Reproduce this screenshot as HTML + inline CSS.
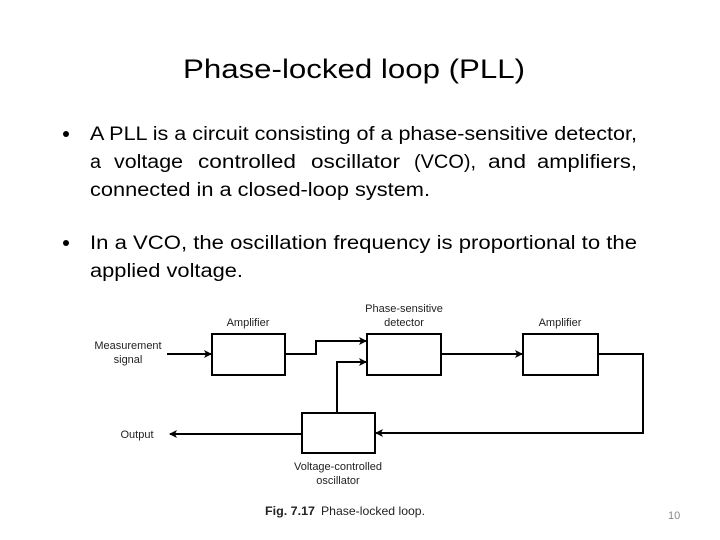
<!DOCTYPE html>
<html><head><meta charset="utf-8"><style>
html,body{margin:0;padding:0;background:#fff}
svg{display:block}
</style></head><body>
<svg width="720" height="540" viewBox="0 0 720 540" xmlns="http://www.w3.org/2000/svg">
<rect width="720" height="540" fill="#fff"/>
<g font-family="Liberation Sans, sans-serif" fill="#000">
<text x="183" y="78" font-size="27" textLength="342" lengthAdjust="spacingAndGlyphs">Phase-locked loop (PLL)</text>
<g font-size="19">
<circle cx="66" cy="134" r="3"/>
<text x="90" y="140" textLength="547" lengthAdjust="spacingAndGlyphs">A PLL is a circuit consisting of a phase-sensitive detector,</text>
<text x="90" y="168" textLength="11" lengthAdjust="spacingAndGlyphs">a</text>
<text x="114" y="168" textLength="69" lengthAdjust="spacingAndGlyphs">voltage</text>
<text x="198" y="168" textLength="98" lengthAdjust="spacingAndGlyphs">controlled</text>
<text x="311" y="168" textLength="89" lengthAdjust="spacingAndGlyphs">oscillator</text>
<text x="414" y="168" textLength="62" lengthAdjust="spacingAndGlyphs">(VCO),</text>
<text x="488" y="168" textLength="38" lengthAdjust="spacingAndGlyphs">and</text>
<text x="537" y="168" textLength="100" lengthAdjust="spacingAndGlyphs">amplifiers,</text>
<text x="90" y="196" textLength="340" lengthAdjust="spacingAndGlyphs">connected in a closed-loop system.</text>
<circle cx="66" cy="243" r="3"/>
<text x="90" y="249" textLength="547" lengthAdjust="spacingAndGlyphs">In a VCO, the oscillation frequency is proportional to the</text>
<text x="90" y="277" textLength="153" lengthAdjust="spacingAndGlyphs">applied voltage.</text>
</g>
<text x="668" y="519" font-size="11" fill="#8a8a8a">10</text>
</g>
<defs><marker id="a" markerWidth="8" markerHeight="8" refX="7" refY="4" orient="auto" markerUnits="userSpaceOnUse"><path d="M0,0 L8,4 L0,8 L2,4z" fill="#000"/></marker></defs>
<g fill="none" stroke="#000" stroke-width="2">
<rect x="212" y="334" width="73" height="41"/>
<rect x="367" y="334" width="74" height="41"/>
<rect x="523" y="334" width="75" height="41"/>
<rect x="302" y="413" width="73" height="40"/>
<path d="M167,354 H211" marker-end="url(#a)"/>
<path d="M285,354 H316 V341 H366" marker-end="url(#a)"/>
<path d="M337,413 V362 H366" marker-end="url(#a)"/>
<path d="M441,354 H522" marker-end="url(#a)"/>
<path d="M598,354 H643 V433 H376" marker-end="url(#a)"/>
<path d="M302,434 H170" marker-end="url(#a)"/>
</g>
<g font-family="Liberation Sans, sans-serif" font-size="11" fill="#222" text-anchor="middle">
<text x="248" y="326">Amplifier</text>
<text x="404" y="312">Phase-sensitive</text>
<text x="404" y="326">detector</text>
<text x="560" y="326">Amplifier</text>
<text x="128" y="349">Measurement</text>
<text x="128" y="363">signal</text>
<text x="137" y="438">Output</text>
<text x="338" y="470">Voltage-controlled</text>
<text x="338" y="484">oscillator</text>
</g>
<g font-family="Liberation Sans, sans-serif" font-size="12" fill="#222">
<text x="265" y="515" font-weight="bold" textLength="50" lengthAdjust="spacingAndGlyphs">Fig. 7.17</text>
<text x="321" y="515" textLength="104" lengthAdjust="spacingAndGlyphs">Phase-locked loop.</text>
</g>
</svg>
</body></html>
